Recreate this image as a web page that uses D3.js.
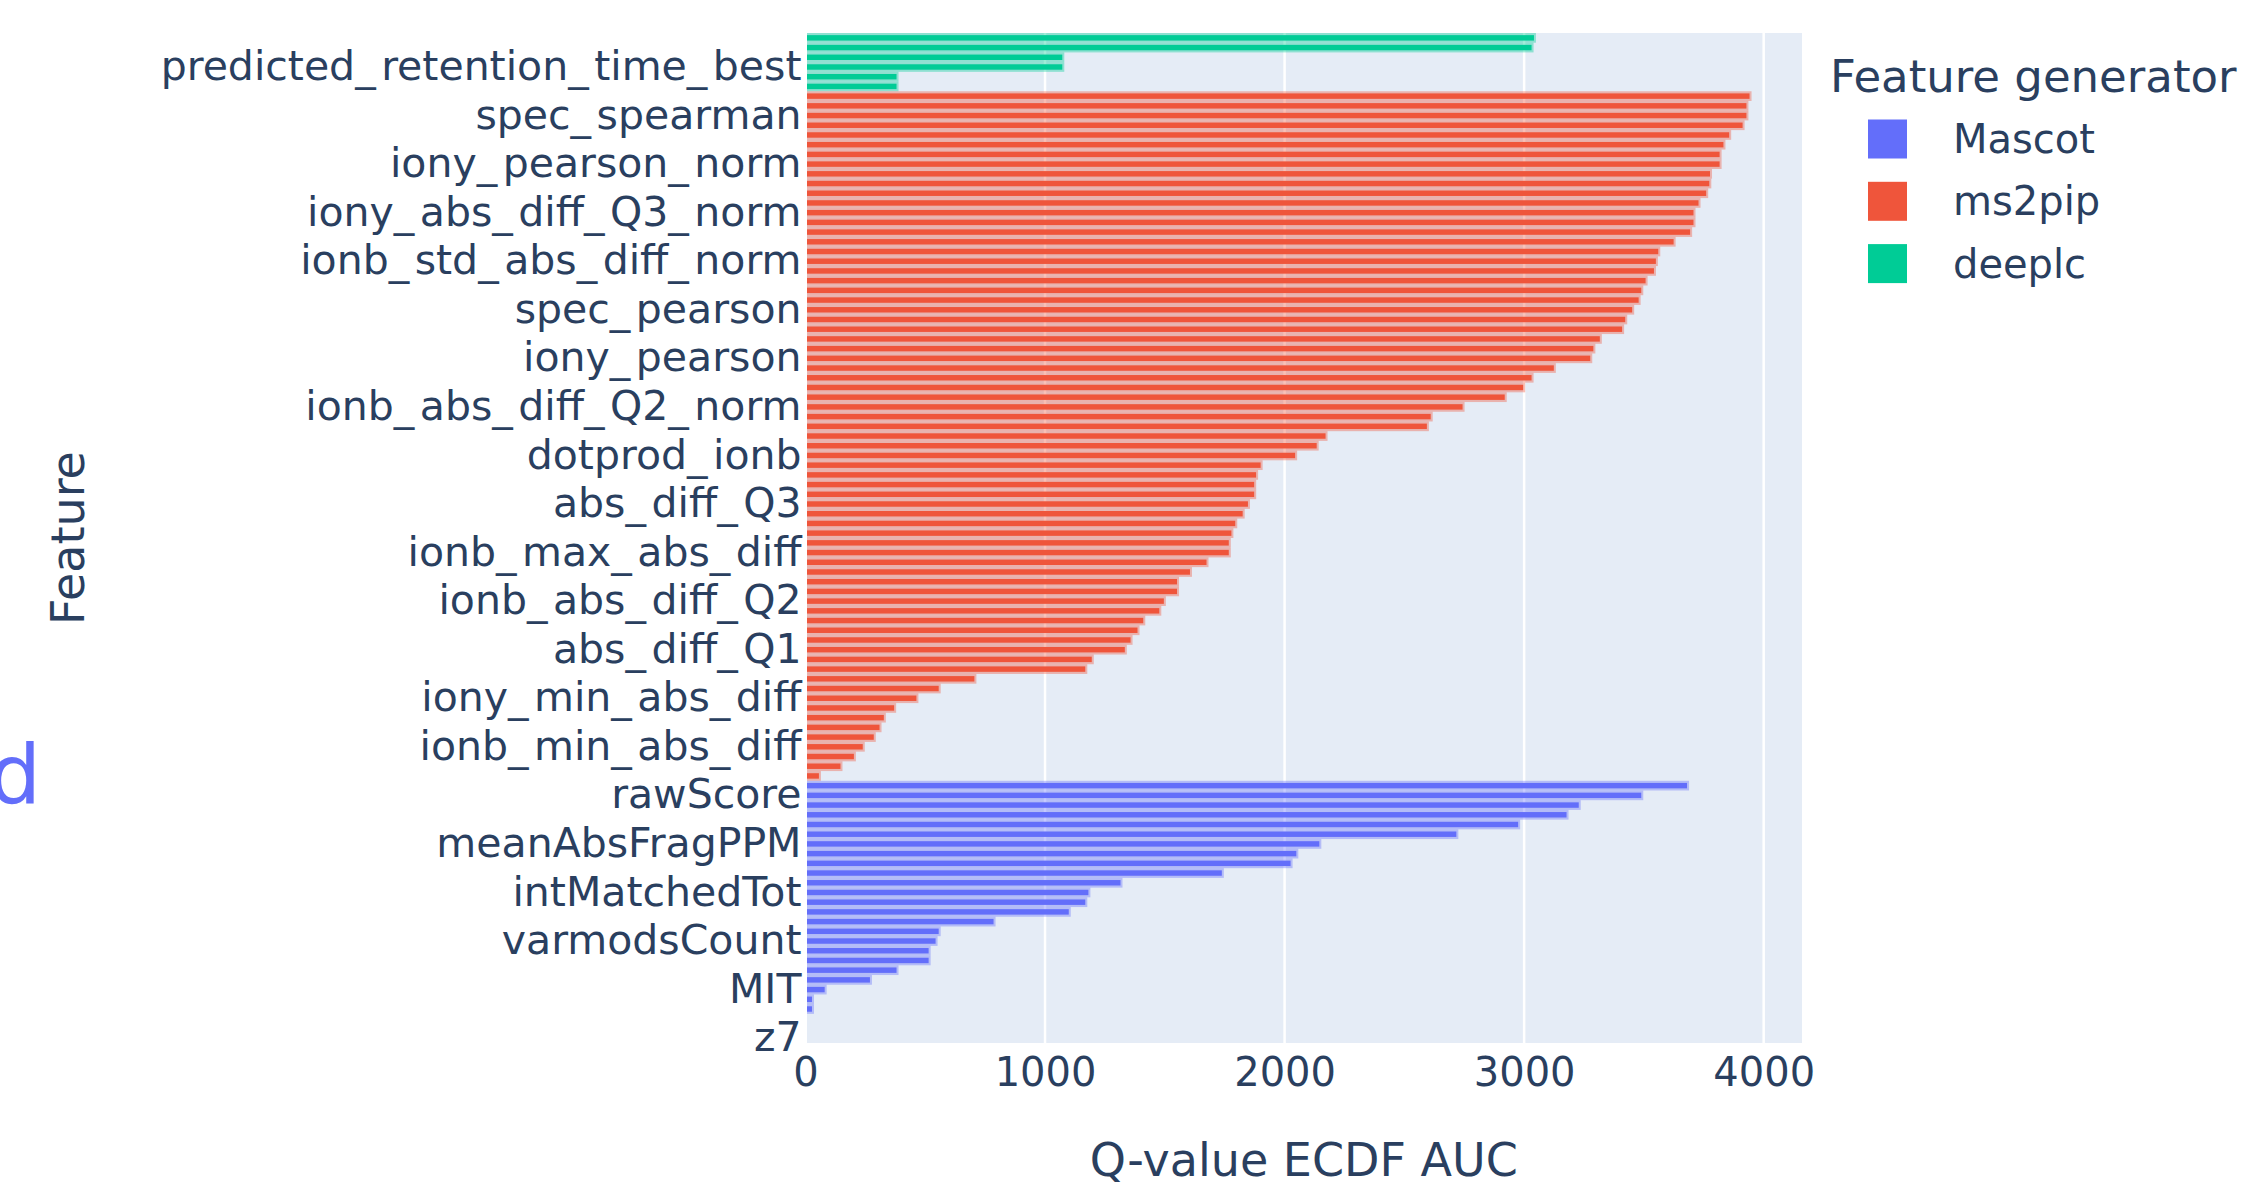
<!DOCTYPE html>
<html>
<head>
<meta charset="utf-8">
<script src="https://cdn.jsdelivr.net/npm/d3@7"></script>
<style>
  html, body { margin: 0; padding: 0; background: #ffffff; }
  svg { display: block; }
  text { font-family: "DejaVu Sans", Verdana, sans-serif; }
</style>
</head>
<body>
<svg id="chart" width="2242" height="1191"></svg>
<script>
// ---------------- data (top to bottom) ----------------
const deeplcFeatures = ["rt_diff_best", "rt_diff", "predicted_retention_time", "predicted_retention_time_best",
  "observed_retention_time", "observed_retention_time_best"];
const deeplcValues = [3041, 3031, 1072, 1072, 380, 380];

const ms2pipFeatures = ["spec_pearson_norm", "cos_norm", "spec_spearman", "cos", "ionb_pearson_norm",
  "ionb_spearman", "iony_spearman", "iony_pearson_norm", "spec_mse_norm", "std_abs_diff_norm",
  "mean_abs_diff_norm", "abs_diff_Q3_norm", "iony_abs_diff_Q3_norm", "iony_mean_abs_diff_norm",
  "iony_std_abs_diff_norm", "ionb_mean_abs_diff_norm", "ionb_abs_diff_Q3_norm", "ionb_std_abs_diff_norm",
  "cos_iony_norm", "cos_ionb_norm", "iony_mse_norm", "ionb_mse_norm", "spec_pearson", "ionb_pearson",
  "abs_diff_Q2_norm", "iony_abs_diff_Q2_norm", "dotprod_norm", "iony_pearson", "max_abs_diff_norm",
  "iony_max_abs_diff_norm", "ionb_max_abs_diff_norm", "cos_iony", "ionb_abs_diff_Q2_norm", "cos_ionb",
  "dotprod_iony_norm", "dotprod_ionb_norm", "dotprod", "dotprod_ionb", "spec_mse", "std_abs_diff",
  "mean_abs_diff", "max_abs_diff", "abs_diff_Q3", "iony_std_abs_diff", "iony_mean_abs_diff",
  "iony_max_abs_diff", "ionb_std_abs_diff", "ionb_max_abs_diff", "ionb_mean_abs_diff", "iony_abs_diff_Q3",
  "ionb_abs_diff_Q3", "abs_diff_Q2", "ionb_abs_diff_Q2", "iony_abs_diff_Q2", "dotprod_iony", "iony_mse",
  "ionb_mse", "abs_diff_Q1", "abs_diff_Q1_norm", "iony_abs_diff_Q1_norm", "ionb_abs_diff_Q1_norm",
  "iony_abs_diff_Q1", "iony_min_abs_diff", "ionb_abs_diff_Q1", "min_abs_diff_norm", "iony_min_abs_diff_norm",
  "ionb_min_abs_diff_norm", "ionb_min_abs_diff", "min_abs_diff", "max_abs_diff_iontype", "min_abs_diff_iontype"];
const ms2pipValues = [3941, 3928, 3928, 3912, 3856, 3832, 3816, 3816, 3776, 3773,
  3760, 3728, 3707, 3707, 3693, 3624, 3560, 3550, 3542, 3507,
  3489, 3478, 3451, 3422, 3409, 3316, 3289, 3276, 3124, 3031,
  2996, 2919, 2743, 2610, 2594, 2171, 2134, 2044, 1900, 1881,
  1873, 1873, 1847, 1825, 1794, 1778, 1767, 1767, 1674, 1605,
  1551, 1551, 1496, 1477, 1410, 1386, 1357, 1333, 1195, 1168,
  705, 556, 463, 370, 327, 309, 285, 239, 202, 146, 56];

const mascotFeatures = ["mScore", "rawScore", "absDeltaScore", "fracIonsMatched", "MHT", "meanErrTop7",
  "meanAbsFragPPM", "sqMeanErrTop7", "stdevErrTop7", "relIntMatchedTot", "isoDeltaScore", "intMatchedTot",
  "totInt", "mass", "dM", "absdM", "varmodsCount", "pepLen", "lnNumSP", "z2", "z3", "MIT", "z1", "z4",
  "z5", "z6", "z7"];
const mascotValues = [3680, 3489, 3228, 3177, 2975, 2717, 2145, 2049, 2025, 1738,
  1315, 1181, 1168, 1099, 785, 556, 543, 514, 514, 380,
  269, 80, 27, 27, 0, 0, 0];

const generators = ["Mascot", "ms2pip", "deeplc"];
const generatorColors = ["#636EFA", "#EF553B", "#00CC96"];

const yTickLabels = ["predicted_retention_time_best", "spec_spearman", "iony_pearson_norm",
  "iony_abs_diff_Q3_norm", "ionb_std_abs_diff_norm", "spec_pearson", "iony_pearson",
  "ionb_abs_diff_Q2_norm", "dotprod_ionb", "abs_diff_Q3", "ionb_max_abs_diff", "ionb_abs_diff_Q2",
  "abs_diff_Q1", "iony_min_abs_diff", "ionb_min_abs_diff", "rawScore", "meanAbsFragPPM",
  "intMatchedTot", "varmodsCount", "MIT", "z7"];
const xTicks = [0, 1000, 2000, 3000, 4000];

// ---------------- build rows ----------------
const rows = [];
deeplcFeatures.forEach((f, i) => rows.push({ feature: f, value: deeplcValues[i], gen: "deeplc" }));
ms2pipFeatures.forEach((f, i) => rows.push({ feature: f, value: ms2pipValues[i], gen: "ms2pip" }));
mascotFeatures.forEach((f, i) => rows.push({ feature: f, value: mascotValues[i], gen: "Mascot" }));

const color = d3.scaleOrdinal().domain(generators).range(generatorColors);

// ---------------- layout ----------------
const plot = { left: 805.5, right: 1802, top: 33, bottom: 1043 };
const textColor = "#2a3f5f";

const svg = d3.select("#chart");
svg.append("rect").attr("width", 2242).attr("height", 1191).attr("fill", "#ffffff");

const x = d3.scaleLinear().domain([0, 4160]).range([plot.left, plot.right]);
const y = d3.scaleBand().domain(rows.map(d => d.feature)).range([plot.top, plot.bottom]).padding(0);

svg.append("rect")
  .attr("x", plot.left).attr("y", plot.top)
  .attr("width", plot.right - plot.left).attr("height", plot.bottom - plot.top)
  .attr("fill", "#E5ECF6");

// vertical gridlines
svg.append("g").selectAll("line").data(xTicks.filter(t => t > 0)).join("line")
  .attr("x1", d => x(d)).attr("x2", d => x(d))
  .attr("y1", plot.top).attr("y2", plot.bottom)
  .attr("stroke", "#ffffff").attr("stroke-width", 2.5);

// bars: soft halo (band) + solid core
const bw = y.bandwidth();
const bars = svg.append("g");
bars.selectAll("rect.halo").data(rows).join("rect")
  .attr("class", "halo")
  .attr("x", x(0))
  .attr("y", d => y(d.feature))
  .attr("width", d => d.value > 0 ? Math.max(0, x(d.value) - x(0) + 2) : 0)
  .attr("height", bw)
  .attr("fill", d => color(d.gen))
  .attr("opacity", 0.38);
bars.selectAll("rect.core").data(rows).join("rect")
  .attr("class", "core")
  .attr("x", x(0))
  .attr("y", d => y(d.feature) + bw * 0.22)
  .attr("height", bw * 0.56)
  .attr("width", d => Math.max(0, x(d.value) - x(0)))
  .attr("fill", d => color(d.gen));

// zero line
svg.append("line")
  .attr("x1", x(0)).attr("x2", x(0))
  .attr("y1", plot.top).attr("y2", plot.bottom)
  .attr("stroke", "#ffffff").attr("stroke-width", 3);

// x axis
const xAxis = svg.append("g")
  .attr("transform", `translate(0,${plot.bottom})`)
  .call(d3.axisBottom(x).tickValues(xTicks).tickSize(0).tickPadding(14.5).tickFormat(d3.format("d")));
xAxis.select(".domain").remove();
xAxis.selectAll("text").attr("font-size", 40).attr("fill", textColor)
  .attr("font-family", '"DejaVu Sans", Verdana, sans-serif');

// y axis (underscores drawn a little wider, as in the reference font)
const yAxis = svg.append("g")
  .attr("transform", `translate(${plot.left},0)`)
  .call(d3.axisLeft(y).tickValues(yTickLabels).tickSize(0).tickPadding(4));
yAxis.select(".domain").remove();
yAxis.selectAll("text")
  .attr("font-size", 41).attr("fill", textColor)
  .attr("font-family", '"DejaVu Sans", Verdana, sans-serif')
  .each(function(d) {
    const t = d3.select(this);
    t.text(null);
    const parts = d.split(/(_)/).filter(s => s.length);
    parts.forEach(p => {
      const ts = t.append("tspan").text(p);
      if (p === "_") ts.attr("letter-spacing", 5.5);
    });
  });

// axis titles
svg.append("text")
  .attr("x", (plot.left + plot.right) / 2).attr("y", 1176)
  .attr("text-anchor", "middle").attr("font-size", 46).attr("fill", textColor)
  .text("Q-value ECDF AUC");
svg.append("text")
  .attr("transform", `translate(84,${(plot.top + plot.bottom) / 2}) rotate(-90)`)
  .attr("text-anchor", "middle").attr("font-size", 46).attr("fill", textColor)
  .text("Feature");

// legend
const legend = svg.append("g");
legend.append("text")
  .attr("x", 1830).attr("y", 92)
  .attr("font-size", 45).attr("fill", textColor)
  .text("Feature generator");
const item = legend.selectAll("g.item").data(generators).join("g")
  .attr("class", "item")
  .attr("transform", (d, i) => `translate(0,${138.5 + i * 62.3})`);
item.append("rect")
  .attr("x", 1868).attr("y", -19).attr("width", 39).attr("height", 39)
  .attr("fill", d => color(d));
item.append("text")
  .attr("x", 1953).attr("y", 14.5)
  .attr("font-size", 40).attr("fill", textColor)
  .text(d => d);

// fragment at left edge
svg.append("text")
  .attr("x", 41).attr("y", 803)
  .attr("text-anchor", "end").attr("font-size", 82).attr("fill", "#636efa")
  .attr("font-family", '"Open Sans", sans-serif')
  .text("d");
</script>
</body>
</html>
